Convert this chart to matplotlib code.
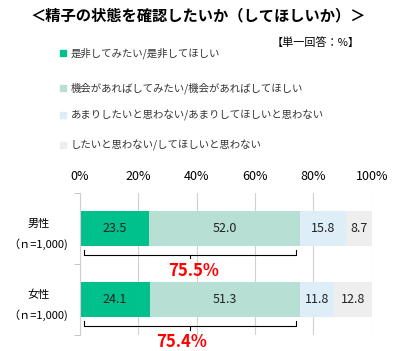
import matplotlib.pyplot as plt
import numpy as np
from matplotlib.patches import Rectangle

plt.rcParams['font.family'] = ['Noto Sans CJK JP', 'DejaVu Sans']

title = '＜精子の状態を確認したいか（してほしいか）＞'
groups = ['男性\n（ｎ=1,000)', '女性\n（ｎ=1,000)']
series = ['是非してみたい/是非してほしい',
          '機会があればしてみたい/機会があればしてほしい',
          'あまりしたいと思わない/あまりしてほしいと思わない',
          'したいと思わない/してほしいと思わない']
values = np.array([[23.5, 52.0, 15.8, 8.7],
                   [24.1, 51.3, 11.8, 12.8]])
totals = ['75.5%', '75.4%']
colors = ['#00C08B', '#B7DFD3', '#DDEEF8', '#EEEEEE']


def main():
    fig = plt.figure(figsize=(3.97, 3.51), dpi=100)
    ax = fig.add_axes([0.2015, 0.045, 0.735, 0.405])

    ypos = np.arange(len(groups))
    left = np.zeros(len(groups))
    for j in range(len(series)):
        ax.barh(ypos, values[:, j], left=left, height=0.5, color=colors[j],
                edgecolor='none', zorder=2)
        for i in range(len(groups)):
            ax.text(left[i] + values[i, j] / 2, ypos[i], f'{values[i, j]:.1f}',
                    ha='center', va='center', fontsize=9, color='#222222', zorder=3)
        left += values[:, j]

    # brackets for the first two categories
    shift = [1, -3]
    for i in range(len(groups)):
        s = values[i, 0] + values[i, 1]
        y0 = ypos[i] + 0.3
        y1 = ypos[i] + 0.37
        ax.plot([1.5, 1.5, s - 1.5, s - 1.5], [y0, y1, y1, y0], color='black',
                lw=0.8, zorder=3, clip_on=False)
        ax.plot([s / 2, s / 2], [y1, y1 + 0.05], color='black', lw=0.8, zorder=3)
        ax.text(s / 2 + shift[i], y1 + 0.22, totals[i], color='#FF0000',
                fontsize=12, fontweight='bold', ha='center', va='center')

    ax.set_xlim(0, 100)
    ax.set_ylim(len(groups) - 0.5, -0.5)
    ax.set_xticks(np.arange(0, 101, 20))
    ax.set_xticklabels([f'{t}%' for t in range(0, 101, 20)], fontsize=9)
    ax.xaxis.tick_top()
    ax.tick_params(axis='x', length=0, pad=7)
    ax.set_yticks([-0.5, 0.5, 1.5], minor=True)
    ax.set_yticks(ypos)
    ax.set_yticklabels(groups, fontsize=8, linespacing=2.0, ha='center')
    ax.tick_params(axis='y', which='major', length=0, pad=30)
    ax.tick_params(axis='y', which='minor', length=4, color='#bbbbbb')
    ax.grid(axis='x', color='#d0d0d0', lw=0.8, zorder=0)
    for sp in ['top', 'right', 'bottom']:
        ax.spines[sp].set_visible(False)
    ax.spines['left'].set_color('#d0d0d0')

    fig.text(0.5, 0.955, title, ha='center', va='center', fontsize=11,
             fontweight='bold')
    fig.text(0.905, 0.88, '【単一回答：%】', ha='right', va='center', fontsize=8)

    leg_y = [0.849, 0.75, 0.672, 0.587]
    for j, name in enumerate(series):
        fig.patches.append(Rectangle((0.152, leg_y[j] - 0.009), 0.015, 0.017,
                                     color=colors[j], transform=fig.transFigure))
        fig.text(0.178, leg_y[j], name, ha='left', va='center', fontsize=7.5,
                 color='#333333')

    fig.savefig('out.png', dpi=100)


if __name__ == '__main__':
    main()
